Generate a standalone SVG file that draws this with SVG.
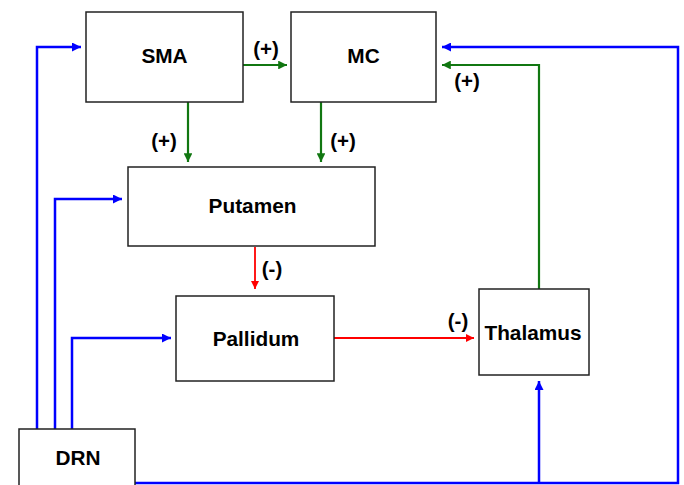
<svg xmlns="http://www.w3.org/2000/svg" width="684" height="485" viewBox="0 0 684 485">
<style>
.box{fill:#fff;stroke:#222;stroke-width:1.5}
.lbl{font-family:"Liberation Sans",Arial,sans-serif;font-weight:bold;font-size:20.8px;text-anchor:middle;fill:#000}
.sg{font-family:"Liberation Sans",Arial,sans-serif;font-weight:bold;font-size:20.5px;text-anchor:middle;fill:#000}
.b{stroke:#0000ff;stroke-width:2.5;fill:none}
.g{stroke:#117711;stroke-width:2.2;fill:none}
.r{stroke:#ff0000;stroke-width:1.8;fill:none}
</style>
<defs>
<marker id="ab" viewBox="0 0 10 10" refX="10" refY="5" markerWidth="3.6" markerHeight="3.6" markerUnits="strokeWidth" orient="auto"><path d="M0,0L10,5L0,10z" fill="#0000ff"/></marker>
<marker id="ag" viewBox="0 0 10 10" refX="10" refY="5" markerWidth="4" markerHeight="4" markerUnits="strokeWidth" orient="auto"><path d="M0,0L10,5L0,10z" fill="#117711"/></marker>
<marker id="ar" viewBox="0 0 10 10" refX="10" refY="5" markerWidth="4.5" markerHeight="4.5" markerUnits="strokeWidth" orient="auto"><path d="M0,0L10,5L0,10z" fill="#ff0000"/></marker>
</defs>
<rect width="684" height="485" fill="#fff"/>
<g id="connectors">
<path class="g" d="M243,65H287" marker-end="url(#ag)"/>
<path class="g" d="M188,102V162" marker-end="url(#ag)"/>
<path class="g" d="M321,102V162" marker-end="url(#ag)"/>
<path class="r" d="M255,247V289" marker-end="url(#ar)"/>
<path class="r" d="M334,338H474" marker-end="url(#ar)"/>
<path class="g" d="M539,289V65H442" marker-end="url(#ag)"/>
<path class="b" d="M37,429V47H81" marker-end="url(#ab)"/>
<path class="b" d="M55,429V199H122" marker-end="url(#ab)"/>
<path class="b" d="M72,429V338H171" marker-end="url(#ab)"/>
<path class="b" d="M135,483H678V47H442" marker-end="url(#ab)"/>
<path class="b" d="M539,483V381" marker-end="url(#ab)"/>
<text class="sg" x="266" y="56">(+)</text>
<text class="sg" x="164" y="148">(+)</text>
<text class="sg" x="343" y="148">(+)</text>
<text class="sg" x="467" y="88">(+)</text>
<text class="sg" x="272" y="276">(-)</text>
<text class="sg" x="458" y="328">(-)</text>
</g>
<g id="SMA"><rect class="box" x="86" y="12" width="157" height="90"/><text class="lbl" x="164.5" y="63">SMA</text></g>
<g id="MC"><rect class="box" x="291" y="12" width="145" height="90"/><text class="lbl" x="363.5" y="63">MC</text></g>
<g id="Putamen"><rect class="box" x="128" y="167" width="247" height="79"/><text class="lbl" x="252.5" y="213">Putamen</text></g>
<g id="Pallidum"><rect class="box" x="176" y="296" width="158" height="85"/><text class="lbl" x="256" y="346">Pallidum</text></g>
<g id="Thalamus"><rect class="box" x="479" y="289" width="110" height="86"/><text class="lbl" x="533" y="340">Thalamus</text></g>
<g id="DRN"><rect class="box" x="19" y="429" width="116" height="60"/><text class="lbl" x="78" y="465">DRN</text></g>
</svg>
